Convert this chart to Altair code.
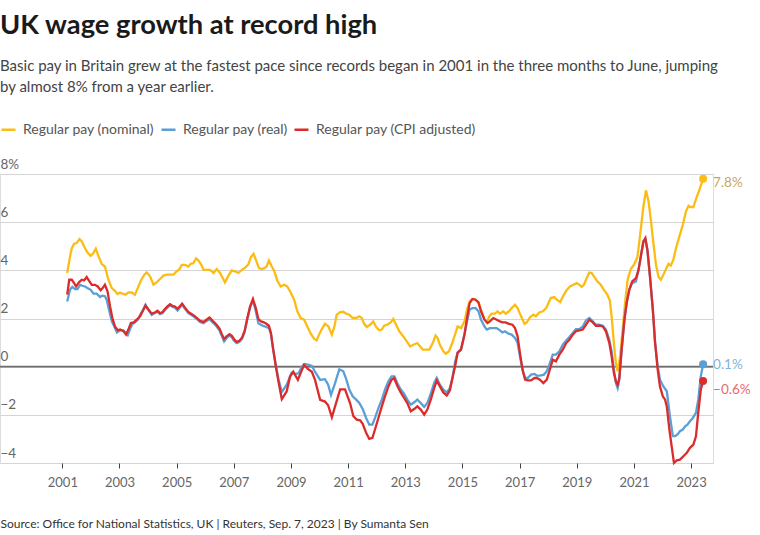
import altair as alt
import pandas as pd

# ---- data (decimal year, % change) ----
nominal_t = [2001.17, 2001.27, 2001.33, 2001.41, 2001.50, 2001.60, 2001.68, 2001.77, 2001.88, 2001.99,
             2002.09, 2002.17, 2002.26, 2002.38, 2002.49, 2002.61, 2002.73, 2002.82, 2002.93, 2003.02,
             2003.11, 2003.22, 2003.31, 2003.43, 2003.54, 2003.64, 2003.75, 2003.87, 2003.95, 2004.07,
             2004.19, 2004.30, 2004.42, 2004.54, 2004.65, 2004.77, 2004.89, 2005.00, 2005.10, 2005.18,
             2005.29, 2005.41, 2005.49, 2005.59, 2005.68, 2005.76, 2005.85, 2005.94, 2006.05, 2006.17,
             2006.29, 2006.40, 2006.52, 2006.61, 2006.69, 2006.81, 2006.93, 2007.04, 2007.16, 2007.28,
             2007.39, 2007.51, 2007.60, 2007.69, 2007.78, 2007.88, 2007.98, 2008.07, 2008.15, 2008.23,
             2008.33, 2008.42, 2008.52, 2008.64, 2008.76, 2008.87, 2008.99, 2009.11, 2009.22, 2009.34,
             2009.46, 2009.57, 2009.69, 2009.81, 2009.90, 2009.98, 2010.08, 2010.19, 2010.31, 2010.43,
             2010.52, 2010.60, 2010.72, 2010.83, 2010.93, 2011.04, 2011.16, 2011.28, 2011.39, 2011.48,
             2011.56, 2011.65, 2011.77, 2011.88, 2011.98, 2012.09, 2012.18, 2012.26, 2012.37, 2012.49,
             2012.58, 2012.68, 2012.79, 2012.93, 2013.05, 2013.17, 2013.28, 2013.42, 2013.52, 2013.61,
             2013.73, 2013.84, 2013.96, 2014.06, 2014.13, 2014.21, 2014.33, 2014.42, 2014.53, 2014.62,
             2014.72, 2014.83, 2014.95, 2015.07, 2015.16, 2015.25, 2015.35, 2015.46, 2015.56, 2015.65,
             2015.77, 2015.85, 2015.94, 2016.02, 2016.14, 2016.23, 2016.31, 2016.43, 2016.51, 2016.63,
             2016.72, 2016.84, 2016.93, 2017.05, 2017.17, 2017.25, 2017.36, 2017.48, 2017.57, 2017.69,
             2017.81, 2017.93, 2018.01, 2018.09, 2018.21, 2018.30, 2018.42, 2018.53, 2018.65, 2018.76,
             2018.88, 2019.00, 2019.09, 2019.17, 2019.25, 2019.35, 2019.44, 2019.52, 2019.62, 2019.72,
             2019.84, 2019.95, 2020.07, 2020.16, 2020.23, 2020.30, 2020.37, 2020.43, 2020.51, 2020.61,
             2020.69, 2020.78, 2020.89, 2021.00, 2021.12, 2021.21, 2021.33, 2021.42, 2021.51, 2021.59,
             2021.68, 2021.77, 2021.86, 2021.94, 2022.03, 2022.12, 2022.21, 2022.29, 2022.38, 2022.47,
             2022.59, 2022.71, 2022.82, 2022.91, 2022.99, 2023.08, 2023.17, 2023.29, 2023.42]
nominal_v = [3.89, 4.58, 4.92, 5.10, 5.13, 5.30, 5.20, 4.97, 4.74, 4.60,
             4.72, 4.90, 4.60, 4.26, 4.16, 3.61, 3.26, 3.17, 3.02, 3.08,
             3.03, 2.99, 3.08, 3.08, 2.99, 3.26, 3.58, 3.82, 3.91, 3.75,
             3.40, 3.50, 3.64, 3.78, 3.82, 3.82, 3.82, 3.96, 4.05, 4.23,
             4.23, 4.16, 4.27, 4.30, 4.50, 4.41, 4.26, 4.02, 4.02, 4.02,
             3.89, 4.05, 3.89, 3.68, 3.50, 3.78, 4.00, 3.96, 3.89, 4.02,
             4.10, 4.25, 4.55, 4.69, 4.41, 4.09, 4.05, 4.09, 4.16, 4.41,
             4.16, 3.96, 3.58, 3.33, 3.40, 3.33, 3.08, 2.78, 2.30, 2.02,
             1.95, 1.67, 1.37, 1.15, 1.09, 1.33, 1.56, 1.78, 1.67, 1.33,
             1.67, 2.16, 2.27, 2.28, 2.20, 2.16, 2.02, 2.02, 2.09, 2.02,
             1.78, 1.65, 1.74, 1.88, 1.65, 1.51, 1.54, 1.70, 1.74, 1.84,
             1.98, 1.74, 1.47, 1.26, 1.05, 0.84, 0.91, 0.98, 0.84, 0.71,
             0.71, 0.71, 0.98, 1.29, 1.19, 0.91, 0.64, 0.54, 0.64, 0.91,
             1.26, 1.67, 1.60, 1.88, 2.37, 2.71, 2.81, 2.78, 2.67, 2.37,
             1.98, 1.84, 2.09, 2.20, 2.20, 2.30, 2.20, 2.30, 2.20, 2.30,
             2.43, 2.57, 2.43, 2.09, 1.78, 1.84, 2.05, 2.16, 2.09, 2.25,
             2.30, 2.43, 2.64, 2.85, 2.89, 2.78, 2.68, 2.95, 3.19, 3.33,
             3.40, 3.47, 3.40, 3.31, 3.40, 3.68, 3.91, 3.89, 3.72, 3.54,
             3.40, 3.19, 2.99, 2.75, 1.95, 0.98, 0.15, -0.19, 0.35, 1.60,
             2.64, 3.61, 4.05, 4.23, 4.55, 5.41, 6.65, 7.32, 6.86, 6.10,
             5.13, 4.23, 3.72, 3.61, 3.82, 4.05, 4.27, 4.20, 4.44, 4.92,
             5.41, 5.89, 6.45, 6.68, 6.63, 6.63, 6.96, 7.34, 7.80]

real_t = [2001.17, 2001.27, 2001.35, 2001.44, 2001.53, 2001.62, 2001.70, 2001.79, 2001.89, 2001.99,
          2002.09, 2002.20, 2002.32, 2002.40, 2002.49, 2002.55, 2002.63, 2002.73, 2002.82, 2002.91,
          2003.02, 2003.14, 2003.22, 2003.29, 2003.37, 2003.46, 2003.54, 2003.64, 2003.73, 2003.83,
          2003.91, 2004.01, 2004.13, 2004.24, 2004.33, 2004.42, 2004.51, 2004.59, 2004.68, 2004.77,
          2004.86, 2004.94, 2005.03, 2005.12, 2005.19, 2005.29, 2005.41, 2005.53, 2005.62, 2005.73,
          2005.82, 2005.94, 2006.03, 2006.15, 2006.26, 2006.38, 2006.50, 2006.58, 2006.66, 2006.75,
          2006.85, 2006.93, 2007.01, 2007.10, 2007.19, 2007.29, 2007.38, 2007.47, 2007.57, 2007.67,
          2007.77, 2007.86, 2007.95, 2008.05, 2008.14, 2008.23, 2008.30, 2008.38, 2008.47, 2008.56,
          2008.68, 2008.85, 2009.02, 2009.14, 2009.26, 2009.38, 2009.46, 2009.60, 2009.73, 2009.84,
          2010.02, 2010.19, 2010.30, 2010.40, 2010.54, 2010.69, 2010.83, 2010.93, 2011.04, 2011.16,
          2011.28, 2011.39, 2011.51, 2011.63, 2011.74, 2011.85, 2011.94, 2012.06, 2012.18, 2012.29,
          2012.41, 2012.52, 2012.62, 2012.72, 2012.84, 2012.96, 2013.07, 2013.19, 2013.31, 2013.42,
          2013.54, 2013.66, 2013.77, 2013.89, 2014.01, 2014.10, 2014.21, 2014.33, 2014.45, 2014.56,
          2014.65, 2014.74, 2014.83, 2014.95, 2015.07, 2015.16, 2015.25, 2015.35, 2015.46, 2015.56,
          2015.65, 2015.77, 2015.85, 2015.96, 2016.08, 2016.20, 2016.31, 2016.40, 2016.49, 2016.61,
          2016.72, 2016.84, 2016.93, 2017.01, 2017.10, 2017.19, 2017.28, 2017.40, 2017.52, 2017.60,
          2017.71, 2017.85, 2017.95, 2018.04, 2018.16, 2018.27, 2018.39, 2018.51, 2018.63, 2018.74,
          2018.86, 2018.97, 2019.09, 2019.21, 2019.32, 2019.44, 2019.56, 2019.67, 2019.79, 2019.91,
          2020.02, 2020.14, 2020.22, 2020.30, 2020.37, 2020.43, 2020.49, 2020.57, 2020.67, 2020.75,
          2020.84, 2020.94, 2021.07, 2021.16, 2021.24, 2021.33, 2021.40, 2021.47, 2021.56, 2021.66,
          2021.74, 2021.83, 2021.91, 2022.03, 2022.15, 2022.26, 2022.36, 2022.44, 2022.52, 2022.61,
          2022.71, 2022.79, 2022.87, 2022.96, 2023.06, 2023.17, 2023.25, 2023.34, 2023.42]
real_v = [2.71, 3.20, 3.31, 3.22, 3.22, 3.40, 3.36, 3.33, 3.26, 3.19,
          3.03, 3.03, 2.89, 2.95, 2.92, 2.78, 2.37, 1.88, 1.67, 1.42,
          1.51, 1.51, 1.40, 1.31, 1.56, 1.78, 1.84, 1.95, 2.16, 2.37,
          2.57, 2.37, 2.15, 2.23, 2.28, 2.18, 2.23, 2.35, 2.46, 2.55,
          2.48, 2.45, 2.33, 2.47, 2.57, 2.40, 2.22, 2.13, 2.06, 1.95,
          1.85, 1.80, 1.88, 1.97, 1.84, 1.70, 1.50, 1.27, 1.05, 1.19,
          1.30, 1.22, 1.08, 0.98, 1.02, 1.15, 1.44, 1.95, 2.45, 2.75,
          2.30, 1.80, 1.74, 1.68, 1.65, 1.60, 1.35, 0.70, 0.08, -0.50,
          -1.05, -0.76, -0.25, -0.30, -0.28, 0.00, 0.11, 0.08, 0.03, -0.21,
          -0.55, -0.52, -0.75, -1.17, -0.69, -0.11, -0.19, -0.51, -0.95, -1.23,
          -1.37, -1.51, -1.76, -2.13, -2.41, -2.41, -2.13, -1.72, -1.37, -0.95,
          -0.61, -0.40, -0.40, -0.68, -0.95, -1.12, -1.37, -1.58, -1.48, -1.37,
          -1.51, -1.67, -1.51, -1.12, -0.68, -0.47, -0.75, -0.95, -1.07, -0.89,
          -0.47, 0.18, 0.59, 0.73, 1.33, 1.88, 2.37, 2.43, 2.43, 2.30,
          1.95, 1.67, 1.54, 1.60, 1.60, 1.60, 1.51, 1.42, 1.47, 1.37,
          1.33, 1.19, 0.98, 0.43, -0.12, -0.47, -0.47, -0.33, -0.30, -0.37,
          -0.37, -0.33, -0.19, 0.08, 0.50, 0.50, 0.64, 0.91, 1.09, 1.23,
          1.40, 1.56, 1.56, 1.67, 1.92, 2.02, 1.88, 1.74, 1.74, 1.70,
          1.54, 1.12, 0.64, -0.12, -0.68, -0.89, -0.54, 0.71, 2.00, 2.70,
          3.20, 3.47, 3.54, 4.02, 4.58, 5.20, 5.27, 4.85, 3.75, 2.37,
          0.98, 0.01, -0.54, -0.82, -1.02, -2.06, -2.88, -2.88, -2.82, -2.68,
          -2.61, -2.48, -2.41, -2.27, -2.13, -1.92, -1.37, -0.40, 0.10]

cpi_t = [2001.17, 2001.24, 2001.33, 2001.41, 2001.48, 2001.58, 2001.68, 2001.76, 2001.85, 2001.93,
         2002.03, 2002.14, 2002.24, 2002.34, 2002.41, 2002.49, 2002.58, 2002.67, 2002.75, 2002.84,
         2002.94, 2003.02, 2003.14, 2003.23, 2003.31, 2003.40, 2003.50, 2003.60, 2003.72, 2003.81,
         2003.91, 2004.01, 2004.13, 2004.24, 2004.33, 2004.42, 2004.51, 2004.59, 2004.68, 2004.77,
         2004.86, 2004.94, 2005.03, 2005.12, 2005.19, 2005.29, 2005.41, 2005.53, 2005.62, 2005.73,
         2005.82, 2005.94, 2006.03, 2006.15, 2006.26, 2006.38, 2006.50, 2006.58, 2006.66, 2006.75,
         2006.85, 2006.93, 2007.01, 2007.10, 2007.19, 2007.29, 2007.38, 2007.47, 2007.57, 2007.67,
         2007.77, 2007.86, 2007.95, 2008.05, 2008.14, 2008.23, 2008.30, 2008.38, 2008.47, 2008.56,
         2008.68, 2008.85, 2008.97, 2009.08, 2009.24, 2009.38, 2009.46, 2009.60, 2009.73, 2009.84,
         2010.02, 2010.19, 2010.30, 2010.43, 2010.54, 2010.72, 2010.89, 2011.07, 2011.18, 2011.30,
         2011.42, 2011.51, 2011.63, 2011.74, 2011.85, 2011.94, 2012.06, 2012.18, 2012.29, 2012.41,
         2012.52, 2012.61, 2012.72, 2012.84, 2012.96, 2013.07, 2013.19, 2013.31, 2013.42, 2013.54,
         2013.66, 2013.77, 2013.89, 2014.01, 2014.10, 2014.21, 2014.33, 2014.45, 2014.56, 2014.65,
         2014.74, 2014.83, 2014.95, 2015.07, 2015.16, 2015.25, 2015.35, 2015.46, 2015.56, 2015.65,
         2015.77, 2015.88, 2015.96, 2016.08, 2016.20, 2016.31, 2016.40, 2016.51, 2016.63, 2016.75,
         2016.84, 2016.93, 2017.01, 2017.10, 2017.19, 2017.28, 2017.40, 2017.52, 2017.60, 2017.71,
         2017.83, 2017.95, 2018.04, 2018.16, 2018.27, 2018.39, 2018.51, 2018.63, 2018.74, 2018.86,
         2018.97, 2019.09, 2019.21, 2019.32, 2019.44, 2019.56, 2019.67, 2019.79, 2019.91, 2020.02,
         2020.14, 2020.22, 2020.30, 2020.37, 2020.43, 2020.49, 2020.57, 2020.67, 2020.75, 2020.84,
         2020.94, 2021.07, 2021.16, 2021.24, 2021.33, 2021.40, 2021.47, 2021.56, 2021.66, 2021.74,
         2021.83, 2021.91, 2022.01, 2022.09, 2022.15, 2022.24, 2022.32, 2022.40, 2022.50, 2022.61,
         2022.73, 2022.85, 2022.96, 2023.08, 2023.17, 2023.25, 2023.34, 2023.42]
cpi_v = [2.99, 3.61, 3.61, 3.47, 3.33, 3.50, 3.61, 3.58, 3.72, 3.57,
         3.40, 3.40, 3.33, 3.17, 3.26, 3.40, 3.13, 2.50, 2.02, 1.67,
         1.51, 1.54, 1.47, 1.33, 1.54, 1.81, 1.84, 1.95, 2.09, 2.30,
         2.53, 2.37, 2.20, 2.25, 2.32, 2.22, 2.27, 2.39, 2.50, 2.59,
         2.52, 2.50, 2.40, 2.52, 2.62, 2.45, 2.27, 2.18, 2.11, 2.00,
         1.90, 1.86, 1.94, 2.04, 1.90, 1.76, 1.58, 1.35, 1.15, 1.26,
         1.35, 1.28, 1.14, 1.03, 1.07, 1.21, 1.49, 2.00, 2.50, 2.81,
         2.43, 1.98, 1.88, 1.84, 1.78, 1.70, 1.40, 0.71, 0.01, -0.60,
         -1.35, -1.03, -0.41, -0.21, -0.55, -0.14, 0.07, -0.10, -0.21, -0.55,
         -1.38, -1.45, -1.60, -2.10, -1.66, -0.94, -0.94, -1.52, -2.05, -2.20,
         -2.23, -2.37, -2.75, -3.00, -2.96, -2.61, -2.13, -1.65, -1.23, -0.82,
         -0.54, -0.47, -0.79, -1.07, -1.30, -1.51, -1.85, -1.76, -1.65, -1.78,
         -1.99, -1.78, -1.37, -0.89, -0.58, -0.82, -1.07, -1.20, -0.98, -0.47,
         0.01, 0.57, 0.71, 1.33, 2.02, 2.64, 2.81, 2.78, 2.67, 2.30,
         1.95, 1.81, 1.88, 2.02, 1.95, 1.88, 1.84, 1.84, 1.78, 1.74,
         1.60, 1.26, 0.57, -0.12, -0.54, -0.57, -0.57, -0.47, -0.47, -0.54,
         -0.68, -0.54, -0.19, 0.29, 0.22, 0.50, 0.71, 0.98, 1.12, 1.33,
         1.47, 1.51, 1.54, 1.74, 1.95, 1.84, 1.70, 1.70, 1.67, 1.47,
         0.98, 0.43, -0.26, -0.61, -0.75, -0.47, 0.71, 1.95, 2.66, 3.20,
         3.54, 3.68, 4.02, 4.58, 5.20, 5.34, 4.85, 3.75, 2.37, 0.98,
         -0.12, -0.82, -1.23, -1.37, -1.65, -2.61, -3.31, -4.00, -3.89, -3.86,
         -3.72, -3.58, -3.37, -3.24, -2.89, -1.92, -0.95, -0.60]

series_names = ["Regular pay (nominal)", "Regular pay (real)", "Regular pay (CPI adjusted)"]
y_ticks = [-4, -2, 0, 2, 4, 6, 8]
x_tick_years = list(range(2001, 2024, 2))

title_text = "UK wage growth at record high"
subtitle_lines = [
    "Basic pay in Britain grew at the fastest pace since records began in 2001 in the three months to June, jumping",
    "by almost 8% from a year earlier.",
]
source_text = "Source: Office for National Statistics, UK | Reuters, Sep. 7, 2023 | By Sumanta Sen"

# ---- styles ----
FONT = "Lato"
line_colors = ["#fbbd14", "#5b9fd7", "#dc2b2b"]
label_colors = ["#c9a65a", "#7fb2dc", "#e76b6b"]
label_dy = [4, 1, 9]


def to_ts(t):
    y = int(t)
    return pd.Timestamp(year=y, month=1, day=1) + pd.Timedelta(days=(t - y) * 365.25)


rows = []
for name, ts, vs in zip(series_names, [nominal_t, real_t, cpi_t], [nominal_v, real_v, cpi_v]):
    for t, v in zip(ts, vs):
        rows.append({"date": to_ts(t), "value": v, "series": name})
df = pd.DataFrame(rows)

x_scale = alt.Scale(domain=[alt.DateTime(year=1998, month=10, date=27),
                            alt.DateTime(year=2023, month=10, date=8)])
y_scale = alt.Scale(domain=[-4, 8], nice=False)

x_enc = alt.X(
    "date:T", scale=x_scale,
    axis=alt.Axis(
        values=[alt.DateTime(year=y, month=1, date=1) for y in x_tick_years],
        format="%Y", domain=False, grid=False, ticks=True, tickSize=5, tickColor="#444",
        labelFont=FONT, labelFontSize=13, labelColor="#666", labelPadding=8,
        title=source_text, titleAnchor="start", titleAlign="left", titleX=0, titleY=64,
        titleFont=FONT, titleFontSize=12, titleFontWeight="normal", titleColor="#333",
        titleBaseline="alphabetic",
    ),
)
y_enc = alt.Y(
    "value:Q", scale=y_scale,
    axis=alt.Axis(
        values=y_ticks, domain=False, ticks=False, grid=True, gridColor="#d4d4d4",
        labelAlign="left", labelBaseline="bottom", labelPadding=0, labelOffset=-3,
        labelFont=FONT, labelFontSize=13.5, labelColor="#666",
        labelExpr="datum.value == 8 ? '8%' : replace(datum.label, '-', '\u2212')",
        title=None,
    ),
)

zero_rule = alt.Chart(pd.DataFrame({"value": [0]})).mark_rule(
    color="#6e6e6e", strokeWidth=1.7).encode(y=alt.Y("value:Q", scale=y_scale))

lines = alt.Chart(df).mark_line(strokeWidth=2.3).encode(
    x=x_enc, y=y_enc,
    color=alt.Color(
        "series:N",
        scale=alt.Scale(domain=series_names, range=line_colors),
        sort=series_names,
        legend=alt.Legend(
            title=None, orient="none", legendX=0, legendY=-53, direction="horizontal",
            symbolType="stroke", symbolStrokeWidth=2.5, symbolSize=196,
            labelFont=FONT, labelFontSize=14, labelColor="#555",
            labelOffset=6, columnPadding=1, padding=0,
        ),
    ),
    detail="series:N",
)

end_layers = []
for name, vs, ts, lc, pc, dy in zip(series_names, [nominal_v, real_v, cpi_v],
                                      [nominal_t, real_t, cpi_t], label_colors, line_colors, label_dy):
    last = pd.DataFrame({"date": [to_ts(ts[-1])], "value": [vs[-1]],
                         "label": [f"{vs[-1]:.1f}%".replace("-", "\u2212")]})
    end_layers.append(alt.Chart(last).mark_circle(size=64, color=pc, opacity=1).encode(
        x="date:T", y="value:Q"))
    end_layers.append(alt.Chart(last).mark_text(
        align="left", dx=10, dy=dy, font=FONT, fontSize=13.5, color=lc).encode(
        x="date:T", y="value:Q", text="label:N"))

chart = alt.layer(zero_rule, lines, *end_layers).properties(
    width=713, height=289,
    title=alt.TitleParams(
        text=title_text, subtitle=subtitle_lines, anchor="start", frame="group",
        font=FONT, fontSize=27.3, fontWeight="bold", color="#1a1a1a",
        subtitleFont=FONT, subtitleFontSize=15, subtitleColor="#444",
        subtitleLineHeight=21, subtitlePadding=20, offset=26,
    ),
    autosize=alt.AutoSizeParams(type="none"),
    padding={"left": 0, "top": 174, "right": 47, "bottom": 72},
).configure_view(stroke=None).configure(background="white")

chart.save("out.html", embed_options={"renderer": "svg", "actions": False})
